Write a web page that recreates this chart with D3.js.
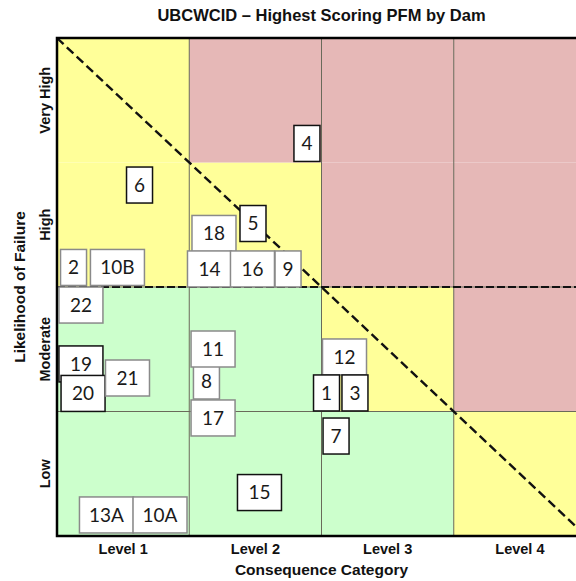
<!DOCTYPE html>
<html>
<head>
<meta charset="utf-8">
<script src="https://cdn.jsdelivr.net/npm/d3@7"></script>
<style>
  html, body { margin: 0; padding: 0; background: #fff; }
  svg { display: block; }
</style>
</head>
<body>
<svg id="chart" width="576" height="581"></svg>
<script>
// ---------------- DATA ----------------
const chartTitle = "UBCWCID \u2013 Highest Scoring PFM by Dam";
const xAxisTitle = "Consequence Category";
const yAxisTitle = "Likelihood of Failure";
const consequenceLevels = ["Level 1", "Level 2", "Level 3", "Level 4"];
const likelihoodLevels = ["Low", "Moderate", "High", "Very High"];
// risk zone of each cell, rows from Low (first) to Very High (last)
const zoneGrid = [
  ["low", "low", "low", "medium"],
  ["low", "low", "medium", "high"],
  ["medium", "medium", "high", "high"],
  ["medium", "high", "high", "high"]
];
// dams: label, consequence score (0-4 continuous), likelihood score (0-4 continuous)
const damLabels      = ["4", "6", "18", "5", "2", "10B", "14", "16", "9", "22", "19", "20", "21", "8", "11", "17", "12", "1", "3", "7", "15", "13A", "10A"];
const damConsequence = [1.890, 0.624, 1.187, 1.482, 0.125, 0.457, 1.153, 1.478, 1.747, 0.181, 0.181, 0.197, 0.533, 1.130, 1.180, 1.180, 2.174, 2.038, 2.253, 2.110, 1.531, 0.374, 0.779];
const damLikelihood  = [3.153, 2.819, 2.430, 2.510, 2.157, 2.157, 2.145, 2.145, 2.145, 1.855, 1.382, 1.145, 1.269, 1.245, 1.502, 0.948, 1.438, 1.149, 1.149, 0.803, 0.349, 0.169, 0.169];

// ---------------- STYLE ----------------
const zoneColor = d3.scaleOrdinal()
  .domain(["low", "medium", "high"])
  .range(["#ccffcc", "#ffff99", "#e6b8b7"]);
const darkOutlined = new Set(["4", "6", "5", "15", "7", "1", "3", "19", "20"]);

const svg = d3.select("#chart");
const pLeft = 57, pRight = 586, pTop = 38, pBottom = 536;

const xBand = d3.scaleBand().domain(consequenceLevels).range([pLeft, pRight]).padding(0);
const yBand = d3.scaleBand().domain(likelihoodLevels.slice().reverse()).range([pTop, pBottom]).padding(0);
const x = d3.scaleLinear().domain([0, 4]).range([pLeft, pRight]);
const y = d3.scaleLinear().domain([0, 4]).range([pBottom, pTop]);

// cells
const cells = [];
likelihoodLevels.forEach((lk, r) => consequenceLevels.forEach((cq, c) => cells.push({lk, cq, zone: zoneGrid[r][c]})));
svg.append("g").selectAll("rect").data(cells).join("rect")
  .attr("x", d => xBand(d.cq)).attr("y", d => yBand(d.lk))
  .attr("width", xBand.bandwidth()).attr("height", yBand.bandwidth())
  .attr("fill", d => zoneColor(d.zone));

// interior grid lines
const grid = svg.append("g").attr("stroke", "#6a6a5a").attr("stroke-width", 1);
consequenceLevels.slice(1).forEach(c => grid.append("line")
  .attr("x1", xBand(c)).attr("x2", xBand(c)).attr("y1", pTop).attr("y2", pBottom));
likelihoodLevels.slice(0, 3).forEach(l => grid.append("line")
  .attr("x1", pLeft).attr("x2", pRight).attr("y1", yBand(l) + yBand.bandwidth()).attr("y2", yBand(l) + yBand.bandwidth()));

// dashed lines
svg.append("line")
  .attr("x1", pLeft).attr("x2", pRight)
  .attr("y1", y(2)).attr("y2", y(2))
  .attr("stroke", "#111").attr("stroke-width", 2.2).attr("stroke-dasharray", "8,3");
svg.append("line")
  .attr("x1", x(0)).attr("y1", y(4)).attr("x2", x(4)).attr("y2", y(0))
  .attr("stroke", "#111").attr("stroke-width", 2.4).attr("stroke-dasharray", "9,4.5");

// outer border (left, top, bottom)
svg.append("path")
  .attr("d", `M${pRight},${pTop} L${pLeft},${pTop} L${pLeft},${pBottom} L${pRight},${pBottom}`)
  .attr("fill", "none").attr("stroke", "#000").attr("stroke-width", 2.5);

// dam boxes
const dams = damLabels.map((lab, i) => ({lab, cx: damConsequence[i], cy: damLikelihood[i]}));
const boxW = s => s.length === 1 ? 26 : (s.length === 2 ? 44 : 54);
const boxH = 36;
const bg = svg.append("g").selectAll("g").data(dams).join("g")
  .attr("transform", d => `translate(${x(d.cx)},${y(d.cy)})`);
bg.append("rect")
  .attr("x", d => -boxW(d.lab) / 2).attr("y", -boxH / 2)
  .attr("width", d => boxW(d.lab)).attr("height", boxH)
  .attr("fill", "#fff")
  .attr("stroke", d => darkOutlined.has(d.lab) ? "#111" : "#8a8a8a")
  .attr("stroke-width", 1.5);
bg.append("text")
  .attr("text-anchor", "middle").attr("dy", "0.36em")
  .attr("font-family", "Lato, 'Open Sans', sans-serif")
  .attr("font-size", 19).attr("fill", "#1a1a1a")
  .text(d => d.lab);

// axes
const xAxis = svg.append("g").attr("transform", `translate(0,${pBottom})`)
  .call(d3.axisBottom(xBand).tickSize(0).tickPadding(4));
xAxis.select(".domain").remove();
xAxis.selectAll("text").attr("font-family", "'Liberation Sans', Arial, sans-serif")
  .attr("font-size", 14.5).attr("font-weight", "bold").attr("fill", "#111").attr("dy", "0.95em");

const yAxis = svg.append("g").attr("transform", `translate(${pLeft},0)`)
  .call(d3.axisLeft(yBand).tickSize(0).tickPadding(0));
yAxis.select(".domain").remove();
yAxis.selectAll(".tick text")
  .attr("x", 0).attr("y", 0).attr("dy", 0)
  .attr("transform", "translate(-7,0) rotate(-90)")
  .attr("text-anchor", "middle")
  .attr("font-family", "'Liberation Sans', Arial, sans-serif")
  .attr("font-size", 14.5).attr("font-weight", "bold").attr("fill", "#111");

// titles
svg.append("text").attr("x", (pLeft + pRight) / 2).attr("y", 21)
  .attr("text-anchor", "middle")
  .attr("font-family", "'Liberation Sans', Arial, sans-serif")
  .attr("font-size", 16.5).attr("font-weight", "bold").attr("fill", "#111")
  .text(chartTitle);
svg.append("text").attr("x", (pLeft + pRight) / 2).attr("y", 575)
  .attr("text-anchor", "middle")
  .attr("font-family", "'Liberation Sans', Arial, sans-serif")
  .attr("font-size", 15.5).attr("font-weight", "bold").attr("fill", "#111")
  .text(xAxisTitle);
svg.append("text")
  .attr("transform", `translate(25,${(pTop + pBottom) / 2}) rotate(-90)`)
  .attr("text-anchor", "middle")
  .attr("font-family", "'Liberation Sans', Arial, sans-serif")
  .attr("font-size", 15.5).attr("font-weight", "bold").attr("fill", "#111")
  .text(yAxisTitle);
</script>
</body>
</html>
